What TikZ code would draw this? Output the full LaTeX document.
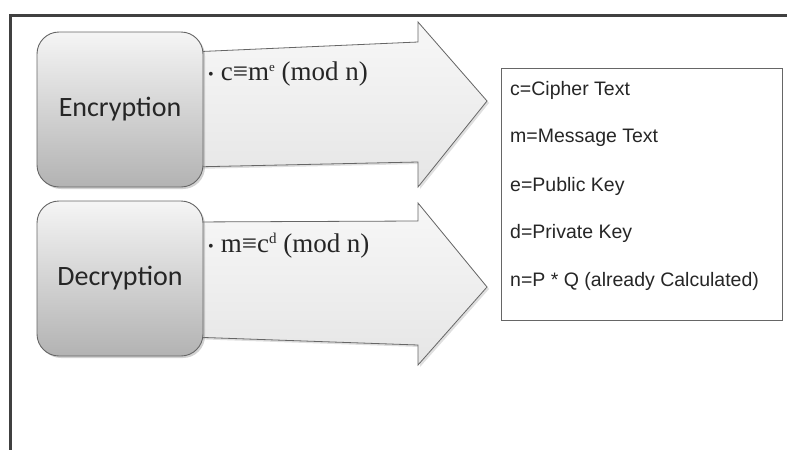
\documentclass[tikz,border=0pt]{standalone}
\usepackage{fontspec}
\setmainfont{Liberation Serif}
\newfontfamily\calib{Carlito}
\newfontfamily\arialf{Liberation Sans}
\usetikzlibrary{shadows}
\begin{document}
\begin{tikzpicture}[x=1pt,y=-1pt,
  frameline/.style={draw=black!75,line width=3pt},
  stagebox/.style={draw=black!60,line width=0.9pt,rounded corners=22pt,
    top color=black!4,bottom color=black!30,minimum width=166pt,minimum height=155pt,
    inner sep=0pt,font=\calib\fontsize{28}{30}\selectfont,text=black!85,
    drop shadow={opacity=0.35,shadow xshift=2pt,shadow yshift=-2pt}},
  bigarrow/.style={draw=black!60,line width=0.8pt,top color=black!3,bottom color=black!10,
    drop shadow={opacity=0.25,shadow xshift=2pt,shadow yshift=-2pt}},
  formula/.style={anchor=west,inner sep=0pt,font=\fontsize{27}{30}\selectfont,text=black!85},
  legendbox/.style={draw=black!60,line width=0.8pt,fill=white,minimum width=281pt,minimum height=252pt,inner sep=0pt},
  legendtext/.style={anchor=west,inner sep=0pt,font=\arialf\fontsize{19.5}{21}\selectfont,text=black!85}]
\useasboundingbox (0,0) rectangle (787,450);
\fill[white] (0,0) rectangle (787,450);
% frame
\draw[frameline] (787,15) -- (10,15) -- (10,450);
% arrows
\draw[bigarrow] (190,52) -- (418,42) -- (418,22) -- (487,101) -- (418,187) -- (418,162) -- (190,167) -- cycle;
\draw[bigarrow] (190,222) -- (418,221) -- (418,203) -- (487,287) -- (418,365) -- (418,345) -- (190,337) -- cycle;
% stage boxes
\node[stagebox] (enc) at (120,109.5) {Encryption};
\node[stagebox] (dec) at (120,278.5) {Decryption};
% formulas
\node[formula] (f1) at (208,74) {{\fontsize{16}{16}\selectfont\raisebox{1pt}{•}}\hspace{7pt}c≡m{\fontsize{13}{13}\selectfont\raisebox{9pt}{e}} (mod n)};
\node[formula] (f2) at (208,246) {{\fontsize{16}{16}\selectfont\raisebox{1pt}{•}}\hspace{7pt}m≡c{\fontsize{15}{15}\selectfont\raisebox{9pt}{d}} (mod n)};
% legend
\node[legendbox] (leg) at (641.5,194) {};
\node[legendtext] (l1) at (510,90) {c=Cipher Text};
\node[legendtext] (l2) at (510,138) {m=Message Text};
\node[legendtext] (l3) at (510,186) {e=Public Key};
\node[legendtext] (l4) at (510,233) {d=Private Key};
\node[legendtext] (l5) at (510,281) {n=P * Q (already Calculated)};
\end{tikzpicture}
\end{document}
